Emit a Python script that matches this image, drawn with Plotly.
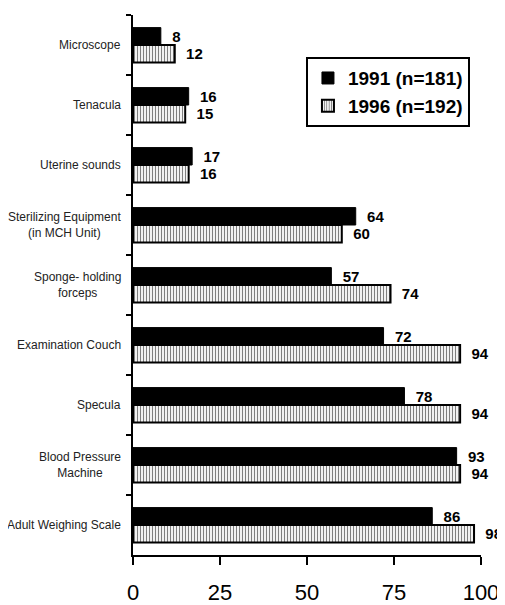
import plotly.graph_objects as go

categories = [
    "Microscope",
    "Tenacula",
    "Uterine sounds",
    "Sterilizing Equipment<br>(in MCH Unit)",
    "Sponge- holding<br>forceps",
    "Examination Couch",
    "Specula",
    "Blood Pressure<br>Machine",
    "Adult Weighing Scale",
]
values_1991 = [8, 16, 17, 64, 57, 72, 78, 93, 86]
values_1996 = [12, 15, 16, 60, 74, 94, 94, 94, 98]
series_names = ["1991 (n=181)", "1996 (n=192)"]
x_ticks = [0, 25, 50, 75, 100]

FONT = "Liberation Sans, Arial, sans-serif"
pad = "\u00a0\u00a0"

fig = go.Figure()
fig.add_trace(go.Bar(
    y=categories, x=values_1991, orientation="h", name=series_names[0],
    marker=dict(color="black", line=dict(color="black", width=1)),
    text=[pad + str(v) for v in values_1991], textposition="outside",
    textfont=dict(family=FONT, size=15, color="black", weight="bold"),
    cliponaxis=False,
))
fig.add_trace(go.Bar(
    y=categories, x=values_1996, orientation="h", name=series_names[1],
    marker=dict(color="white", line=dict(color="black", width=2),
                pattern=dict(shape="|", fgcolor="black", bgcolor="white",
                             size=3, solidity=0.4, fillmode="overlay")),
    text=[pad + str(v) for v in values_1996], textposition="outside",
    textfont=dict(family=FONT, size=15, color="black", weight="bold"),
    cliponaxis=False,
))

annotations = [
    dict(x=0, y=c, xref="paper", yref="y", text=c, showarrow=False,
         xanchor="right", yanchor="middle", align="center", xshift=-10,
         font=dict(family=FONT, size=12, color="#222"))
    for c in categories
]

# page body adds an 8px offset at top-left, so the figure is sized to fill the rest
fig.update_layout(
    width=497, height=597,
    margin=dict(l=125, r=24, t=7, b=50),
    paper_bgcolor="white", plot_bgcolor="white",
    barmode="group", bargap=0.42, bargroupgap=0,
    showlegend=True,
    legend=dict(x=0.497, y=0.922, xanchor="left", yanchor="top",
                bgcolor="white", bordercolor="black", borderwidth=2,
                font=dict(family=FONT, size=19, color="black", weight="bold"),
                itemwidth=30, tracegroupgap=4),
    annotations=annotations,
)
fig.update_xaxes(
    range=[0, 100], tickvals=x_ticks, ticktext=[str(t) for t in x_ticks],
    showgrid=False, zeroline=False, showline=True, linecolor="black", linewidth=2,
    ticks="outside", ticklen=8, tickwidth=2, tickcolor="black",
    tickfont=dict(family=FONT, size=22, color="black"),
    ticklabelstandoff=9, automargin=False,
)
fig.update_yaxes(
    categoryorder="array", categoryarray=categories,
    range=[8.5, -0.5], autorange=False,
    showgrid=False, zeroline=False, showline=True, linecolor="black", linewidth=2,
    ticks="outside", ticklen=5, tickwidth=2, tickcolor="black",
    tickson="boundaries", showticklabels=False, automargin=False,
)

fig.write_html("out.html")
